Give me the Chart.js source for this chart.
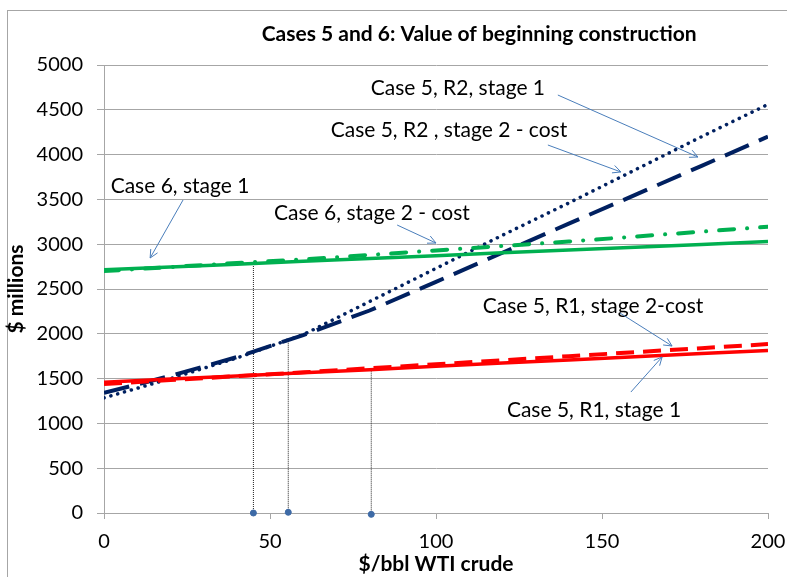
<!DOCTYPE html>
<html>
<head>
<meta charset="utf-8">
<script src="https://cdn.jsdelivr.net/npm/chart.js@4.4.1/dist/chart.umd.min.js"></script>
<style>
  body { margin: 0; background: #fff; }
  canvas { display: block; }
</style>
</head>
<body>
<canvas id="chart" width="787" height="577"></canvas>
<script>
'use strict';

// values ($ millions vs $/bbl)
let crudePrices = [0, 20, 40, 60, 80, 100, 120, 140, 160, 180, 200];
let r2Stage1 = [1285, 1500, 1730, 1990, 2360, 2730, 3100, 3460, 3830, 4200, 4560];
let r2Stage2Cost = [1340, 1530, 1740, 1985, 2260, 2580, 2905, 3230, 3550, 3875, 4200];
let case6Stage1 = [2715, 2745, 2777, 2810, 2840, 2872, 2905, 2935, 2965, 2998, 3030];
let case6Stage2Cost = [2700, 2745, 2790, 2830, 2880, 2930, 2980, 3030, 3085, 3140, 3195];
let r1Stage1 = [1460, 1495, 1530, 1565, 1600, 1637, 1673, 1708, 1743, 1780, 1815];
let r1Stage2Cost = [1440, 1483, 1527, 1570, 1615, 1660, 1705, 1750, 1795, 1840, 1885];

// breakeven markers on the x axis and where their drop lines end
let breakevenX = [45, 55.5, 80.5];
let breakevenY = [0, 8, -15];
let dropTop = [2790, 1920, 1595];

let yTicks = [0, 500, 1000, 1500, 2000, 2500, 3000, 3500, 4000, 4500, 5000];

let titleText = 'Cases 5 and 6: Value of beginning construction';
let noteText = ['Case 5, R2, stage 1', 'Case 5, R2 , stage 2 - cost', 'Case 6, stage 1',
  'Case 6, stage 2 - cost', 'Case 5, R1, stage 2-cost', 'Case 5, R1, stage 1'];

// label anchors and arrows, in data units
let noteAt = [[106.6, 4743], [103.9, 4275], [22.9, 3650], [80.7, 3348], [147.3, 2310], [147.6, 1150]];
let arrowFrom = [[136.7, 4665], [133.7, 4107], [23.8, 3493], [88.3, 3214], [155.4, 2232], [158.7, 1350]];
let arrowTo = [[178.9, 3973], [155.7, 3806], [13.9, 2846], [100, 3013], [171.1, 1864], [168.1, 1741]];

const FONT = 'Lato, "Open Sans", sans-serif';

function pairs(xs, ys) {
  return xs.map((x, i) => ({ x: x, y: ys[i] }));
}

function lineSet(label, ys, color, width, dash, cap) {
  return {
    label: label,
    data: pairs(crudePrices, ys),
    borderColor: color,
    borderWidth: width,
    borderDash: dash,
    borderCapStyle: cap,
    pointRadius: 0,
    tension: 0,
    fill: false
  };
}

let datasets = [
  lineSet('Case 6, stage 1', case6Stage1, '#00b050', 3.5, [], 'butt'),
  lineSet('Case 6, stage 2 - cost', case6Stage2Cost, '#00b050', 4, [15, 13, 0.1, 13], 'round'),
  lineSet('Case 5, R1, stage 1', r1Stage1, '#ff0000', 3.5, [], 'butt'),
  lineSet('Case 5, R1, stage 2-cost', r1Stage2Cost, '#ff0000', 4, [18, 9], 'butt'),
  lineSet('Case 5, R2, stage 1', r2Stage1, '#002060', 3.5, [0.1, 7], 'round'),
  lineSet('Case 5, R2 , stage 2 - cost', r2Stage2Cost, '#002060', 4, [26, 11], 'butt')
];

for (let i = 0; i < breakevenX.length; i++) {
  datasets.push({
    label: 'drop' + i,
    data: [{ x: breakevenX[i], y: breakevenY[i] }, { x: breakevenX[i], y: dropTop[i] }],
    borderColor: '#222',
    borderWidth: 1,
    borderDash: [1, 1],
    pointRadius: 0,
    order: 5
  });
}

datasets.push({
  label: 'breakeven',
  data: pairs(breakevenX, breakevenY),
  showLine: false,
  pointRadius: 3,
  pointBackgroundColor: '#3d6aa6',
  pointBorderColor: '#3d6aa6',
  clip: false,
  order: -1
});

function drawArrow(ctx, x1, y1, x2, y2) {
  let ang = Math.atan2(y2 - y1, x2 - x1);
  let len = 9;
  ctx.beginPath();
  ctx.moveTo(x1, y1);
  ctx.lineTo(x2, y2);
  ctx.moveTo(x2 - len * Math.cos(ang - 0.45), y2 - len * Math.sin(ang - 0.45));
  ctx.lineTo(x2, y2);
  ctx.lineTo(x2 - len * Math.cos(ang + 0.45), y2 - len * Math.sin(ang + 0.45));
  ctx.stroke();
}

const notesPlugin = {
  id: 'notes',
  beforeDraw(chart) {
    let ctx = chart.ctx;
    ctx.save();
    ctx.fillStyle = '#fff';
    ctx.fillRect(0, 0, chart.width, chart.height);
    ctx.strokeStyle = '#a6a6a6';
    ctx.lineWidth = 1;
    ctx.strokeRect(7.5, 10.5, chart.width + 20, chart.height + 20);
    ctx.restore();
  },
  afterDatasetsDraw(chart) {
    let ctx = chart.ctx;
    let xs = chart.scales.x;
    let ys = chart.scales.y;
    let area = chart.chartArea;
    ctx.save();
    ctx.fillStyle = '#000';
    ctx.textAlign = 'center';
    ctx.textBaseline = 'middle';
    ctx.font = 'bold 21px ' + FONT;
    ctx.fillText(titleText, area.left + (area.right - area.left) * 0.565, 34);

    ctx.font = '21px ' + FONT;
    for (let i = 0; i < noteText.length; i++) {
      ctx.fillText(noteText[i], xs.getPixelForValue(noteAt[i][0]), ys.getPixelForValue(noteAt[i][1]));
    }
    ctx.strokeStyle = '#4a7ebb';
    ctx.lineWidth = 1;
    for (let i = 0; i < arrowFrom.length; i++) {
      drawArrow(ctx,
        xs.getPixelForValue(arrowFrom[i][0]), ys.getPixelForValue(arrowFrom[i][1]),
        xs.getPixelForValue(arrowTo[i][0]), ys.getPixelForValue(arrowTo[i][1]));
    }
    ctx.restore();
  }
};

new Chart(document.getElementById('chart'), {
  type: 'line',
  data: { datasets: datasets },
  plugins: [notesPlugin],
  options: {
    responsive: false,
    animation: false,
    layout: { padding: { top: 65, right: 19, left: 0, bottom: 0 } },
    plugins: {
      legend: { display: false },
      tooltip: { enabled: false },
      title: { display: false }
    },
    scales: {
      x: {
        type: 'linear',
        min: 0,
        max: 200,
        afterFit(scale) {
          scale.height = 64;
          scale.paddingRight = 0;
          scale.paddingLeft = 0;
        },
        ticks: { stepSize: 50, color: '#000', font: { family: FONT, size: 20 }, padding: 11 },
        grid: { drawOnChartArea: false, drawTicks: true, tickLength: 6, color: '#a6a6a6' },
        border: { color: '#a6a6a6', width: 1 },
        title: { display: true, text: '$/bbl WTI crude', color: '#000', font: { family: FONT, size: 21, weight: 'bold' }, padding: { top: 0, bottom: 0 } }
      },
      y: {
        min: 0,
        max: 5000,
        afterFit(scale) { scale.width = 104; },
        afterBuildTicks(scale) { scale.ticks = yTicks.map(v => ({ value: v })); },
        ticks: { color: '#000', font: { family: FONT, size: 20 }, padding: 14, callback: v => String(v) },
        grid: { color: '#a6a6a6', tickLength: 7 },
        border: { color: '#a6a6a6', width: 1 },
        title: { display: true, text: '$ millions', color: '#000', font: { family: FONT, size: 21, weight: 'bold' }, padding: { top: 4, bottom: 0 } }
      }
    }
  }
});
</script>
</body>
</html>
